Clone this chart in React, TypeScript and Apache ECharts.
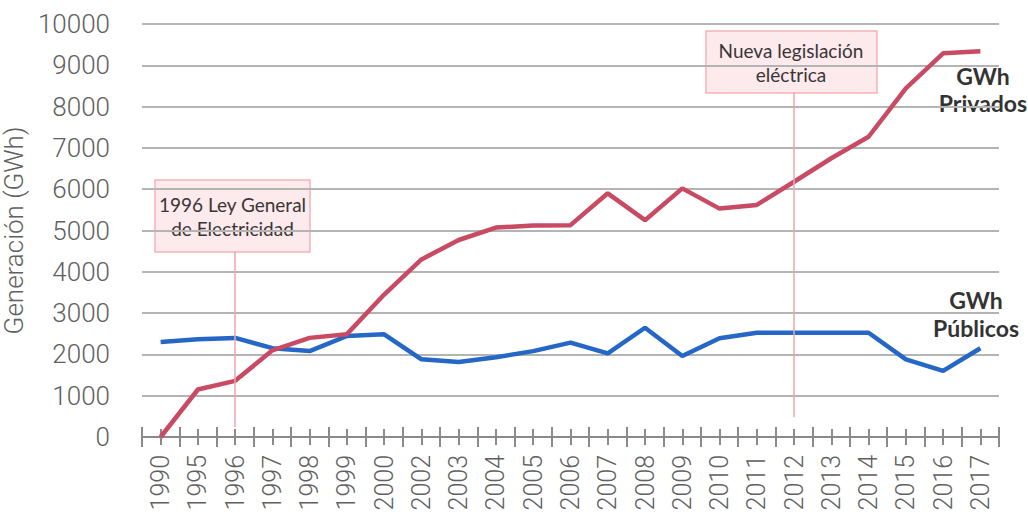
import React, { useEffect, useRef } from "react";
import * as echarts from "echarts";

const years = ["1990","1995","1996","1997","1998","1999","2000","2002","2003","2004","2005","2006","2007","2008","2009","2010","2011","2012","2013","2014","2015","2016","2017"];
const privados = [0,1150,1360,2100,2400,2490,3450,4300,4770,5070,5120,5130,5900,5250,6020,5530,5620,6180,6750,7270,8440,9290,9340];
const publicos = [2300,2365,2400,2150,2080,2445,2485,1880,1815,1930,2080,2285,2025,2645,1960,2390,2525,2525,2525,2525,1880,1600,2150];
const yTicks = { min: 0, max: 10000, interval: 1000 };
const notes = [
  { year: "1996", from: 240, to: 4490, text: "1996 Ley General\nde Electricidad" },
  { year: "2012", from: 480, to: 8350, text: "Nueva legislación\neléctrica" },
];

const NARROW = "Roboto, sans-serif";
const LABEL = "Lato, 'Open Sans', sans-serif";

export default function App() {
  const ref = useRef<HTMLDivElement>(null);
  useEffect(() => {
    const chart = echarts.init(ref.current!, null, { renderer: "svg" });
    const baseX = {
      type: "category" as const,
      data: years,
      position: "bottom" as const,
      boundaryGap: true,
      axisLabel: { show: false },
      splitLine: { show: false },
      axisLine: { show: false },
    };
    const tickStyle = { color: "#8a8a8a", width: 2 };
    chart.setOption({
      animation: false,
      grid: { left: 142, right: 29, top: 24, bottom: 77, outerBoundsMode: "none", containLabel: false },
      xAxis: [
        {
          ...baseX,
          axisLine: { show: true, lineStyle: { color: "#8a8a8a", width: 2 } },
          axisTick: { show: true, length: 10, lineStyle: tickStyle },
          axisLabel: {
            show: true,
            rotate: 90,
            interval: 0,
            margin: 18,
            fontSize: 25,
            fontWeight: 300,
            fontFamily: NARROW,
            color: "#606060",
          },
        },
        { ...baseX, axisTick: { show: true, inside: true, length: 10, lineStyle: tickStyle } },
        { ...baseX, axisTick: { show: true, alignWithLabel: true, length: 8, lineStyle: tickStyle } },
        { ...baseX, axisTick: { show: true, alignWithLabel: true, inside: true, length: 8, lineStyle: tickStyle } },
      ],
      yAxis: {
        type: "value",
        min: yTicks.min,
        max: yTicks.max,
        interval: yTicks.interval,
        name: "Generación (GWh)",
        nameLocation: "middle",
        nameRotate: 90,
        nameGap: 112,
        nameTextStyle: { fontSize: 26, fontWeight: 300, fontFamily: NARROW, color: "#606060" },
        axisLine: { show: false },
        axisTick: { show: false },
        axisLabel: {
          fontSize: 26,
          fontWeight: 300,
          fontFamily: NARROW,
          color: "#606060",
          margin: 32,
          formatter: (v: number) => String(v),
        },
        splitLine: { lineStyle: { color: "#b4b4b4", width: 2 } },
      },
      series: [
        {
          name: "GWh Públicos",
          type: "line",
          data: publicos,
          symbol: "none",
          lineStyle: { color: "#2467c6", width: 4.5 },
          itemStyle: { color: "#2467c6" },
        },
        {
          name: "GWh Privados",
          type: "line",
          data: privados,
          symbol: "none",
          lineStyle: { color: "#c84a63", width: 4.5 },
          itemStyle: { color: "#c84a63" },
          markLine: {
            silent: true,
            symbol: "none",
            label: { show: false },
            lineStyle: { color: "#f0a6ae", width: 1.5, type: "solid" },
            data: notes.map((n) => [
              { xAxis: n.year, yAxis: n.from },
              { xAxis: n.year, yAxis: n.to },
            ]),
          },
        },
      ],
      graphic: [
        {
          type: "rect",
          shape: { x: 155, y: 180, width: 155, height: 72 },
          style: { fill: "rgba(240,160,172,0.22)", stroke: "#f2b3b9", lineWidth: 1.5 },
        },
        {
          type: "text",
          x: 232.5,
          y: 192,
          style: {
            text: notes[0].text,
            fontSize: 19,
            fontFamily: LABEL,
            fill: "#3b3436",
            lineHeight: 24,
            align: "center",
            verticalAlign: "top",
          },
        },
        {
          type: "rect",
          shape: { x: 706, y: 31, width: 171, height: 62 },
          style: { fill: "rgba(240,160,172,0.22)", stroke: "#f2b3b9", lineWidth: 1.5 },
        },
        {
          type: "text",
          x: 791,
          y: 38,
          style: {
            text: notes[1].text,
            fontSize: 19,
            fontFamily: LABEL,
            fill: "#3b3436",
            lineHeight: 24,
            align: "center",
            verticalAlign: "top",
          },
        },
        {
          type: "text",
          x: 983,
          y: 62,
          style: {
            text: "GWh\nPrivados",
            fontSize: 23,
            fontWeight: "bold",
            fontFamily: LABEL,
            fill: "#333333",
            lineHeight: 27,
            align: "center",
            verticalAlign: "top",
          },
        },
        {
          type: "text",
          x: 976,
          y: 286,
          style: {
            text: "GWh\nPúblicos",
            fontSize: 23,
            fontWeight: "bold",
            fontFamily: LABEL,
            fill: "#333333",
            lineHeight: 28,
            align: "center",
            verticalAlign: "top",
          },
        },
      ],
    });
    return () => chart.dispose();
  }, []);
  return (
    <div
      ref={ref}
      style={{ position: "fixed", left: 0, top: 0, width: 1028, height: 514, background: "#fff" }}
    />
  );
}
